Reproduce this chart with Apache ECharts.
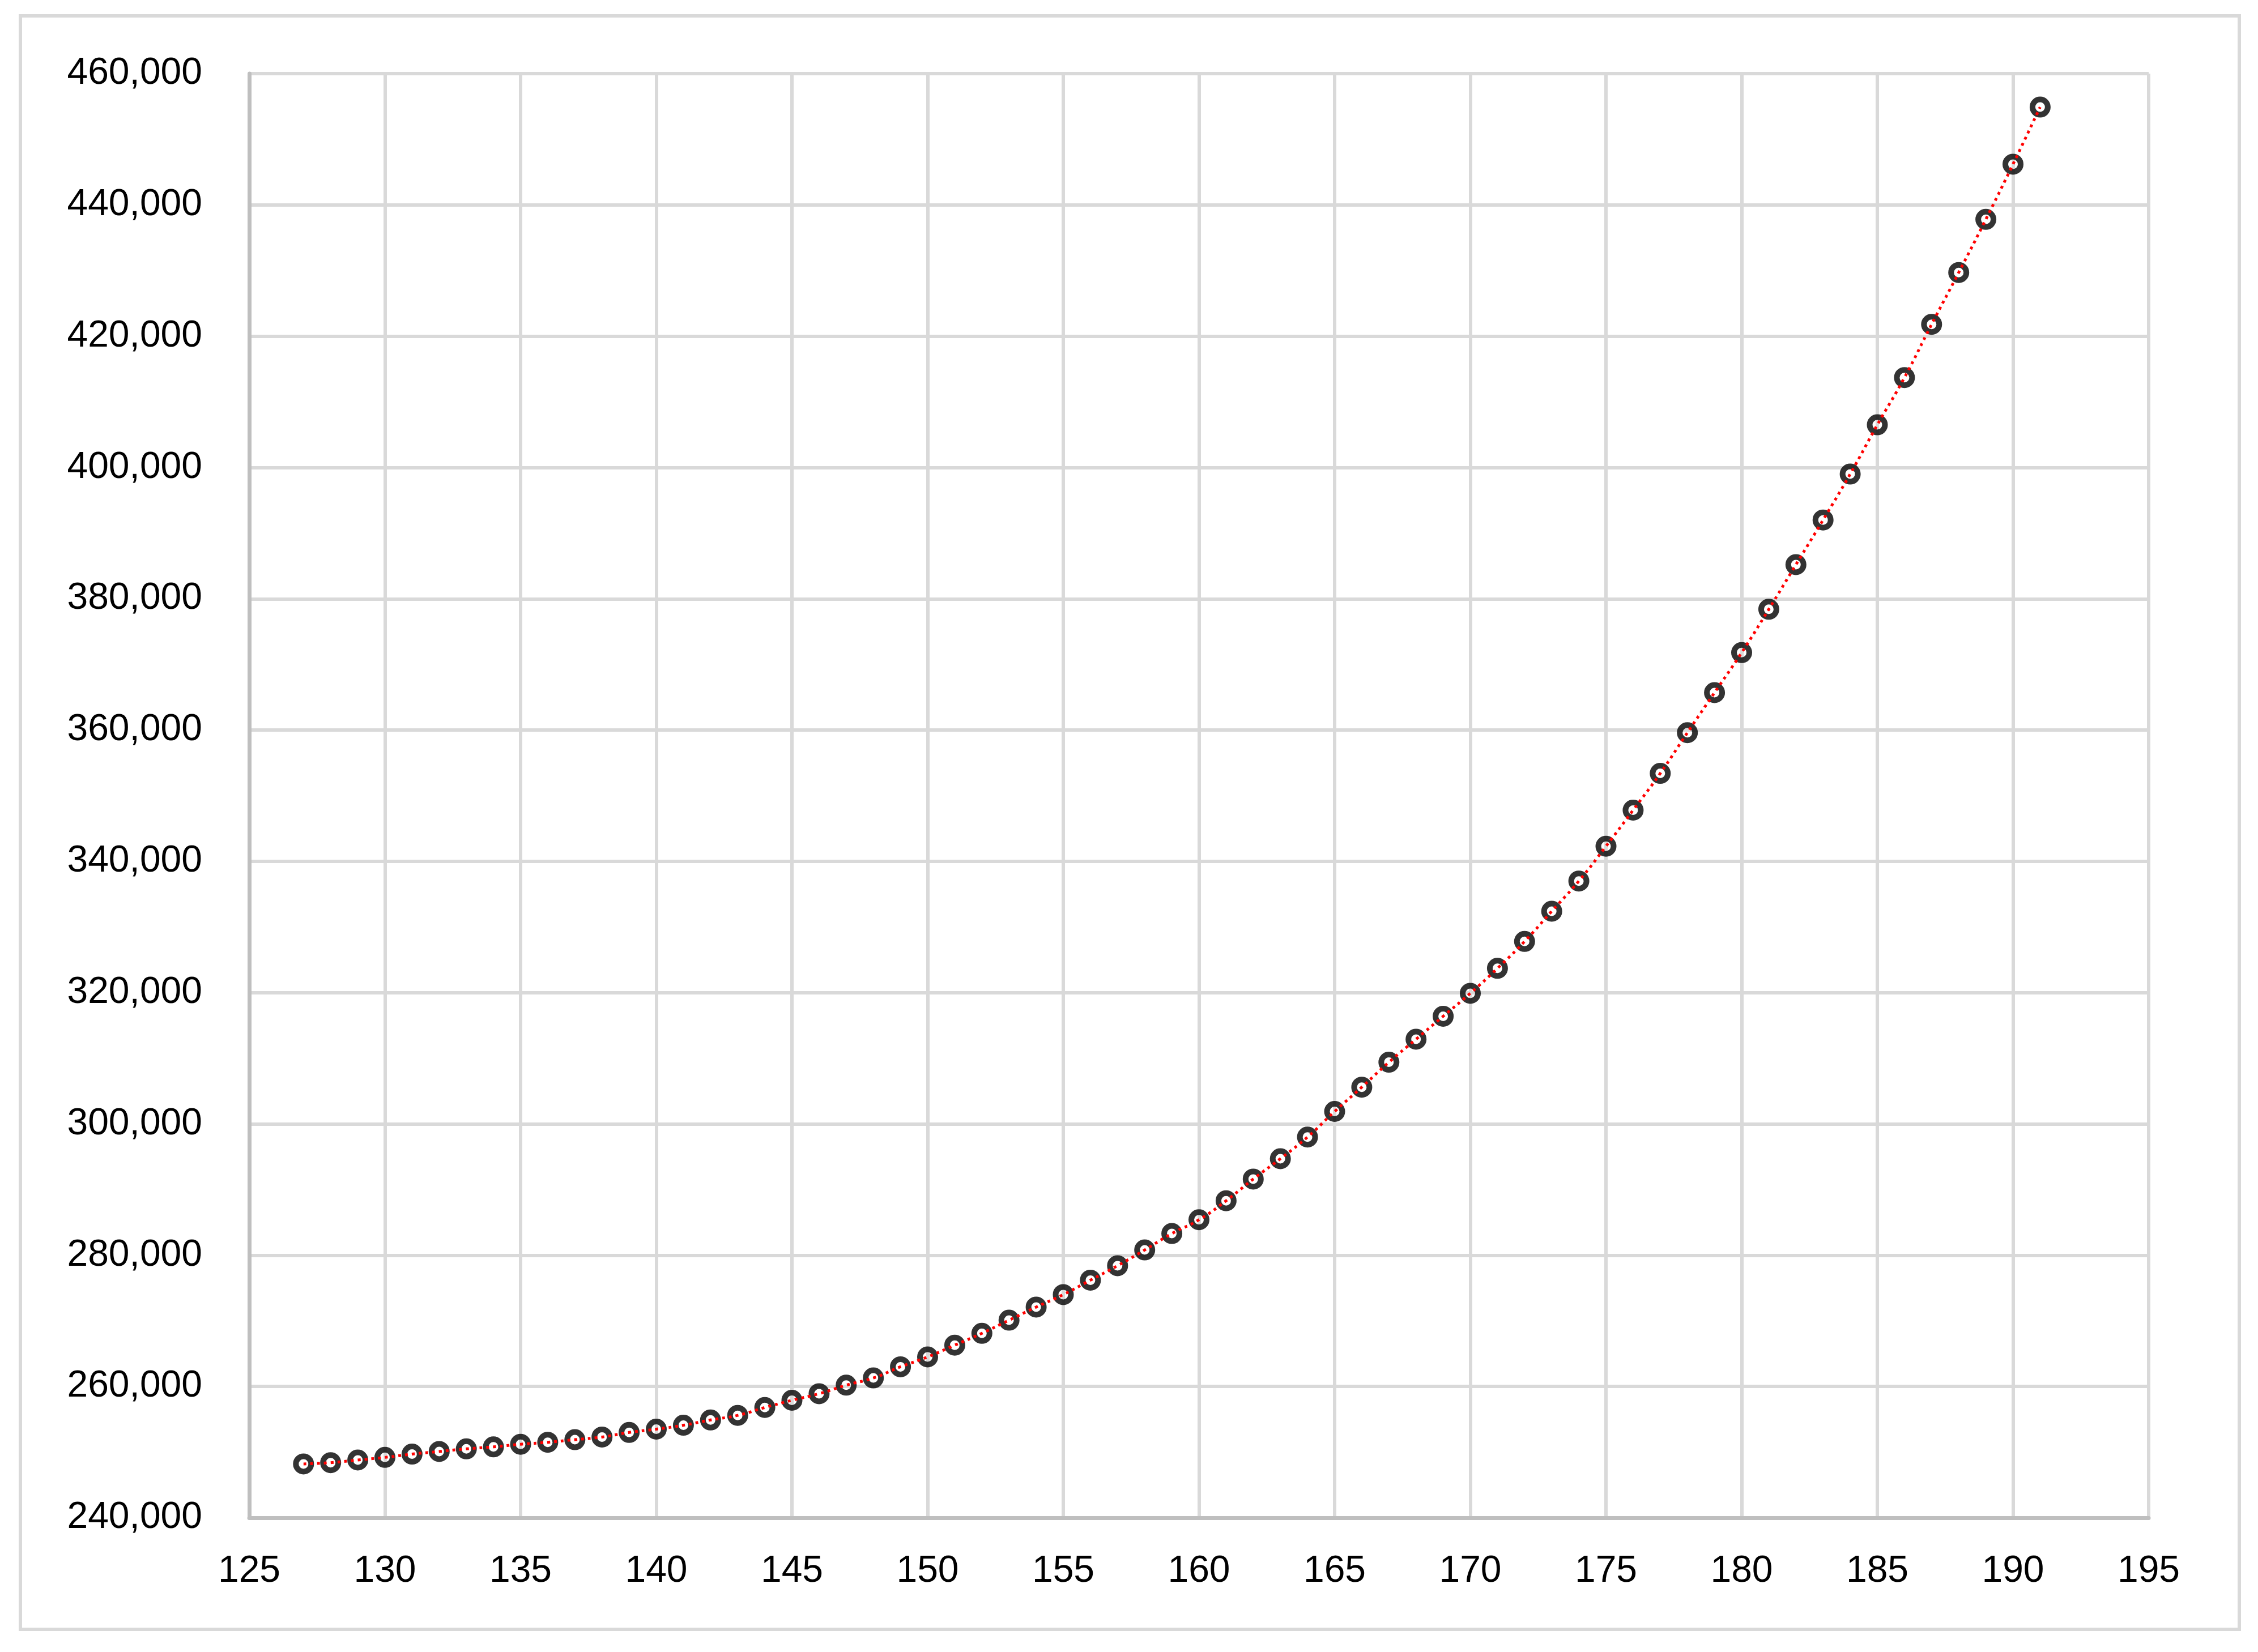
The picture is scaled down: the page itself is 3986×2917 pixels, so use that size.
<!DOCTYPE html>
<html lang="en">
<head>
    <meta charset="utf-8">
    <title>Scatter with trendline</title>
    <style>
        html, body { margin: 0; padding: 0; background: #fff; }
    </style>
</head>
<body>
    <div id="main" style="width:3986px;height:2917px;"></div>
    <script src="https://cdn.jsdelivr.net/npm/echarts@6/dist/echarts.min.js"></script>
    <script type="text/javascript">
        // x values (127 .. 191)
        var xValues = [
            127, 128, 129, 130, 131, 132, 133, 134, 135, 136,
            137, 138, 139, 140, 141, 142, 143, 144, 145, 146,
            147, 148, 149, 150, 151, 152, 153, 154, 155, 156,
            157, 158, 159, 160, 161, 162, 163, 164, 165, 166,
            167, 168, 169, 170, 171, 172, 173, 174, 175, 176,
            177, 178, 179, 180, 181, 182, 183, 184, 185, 186,
            187, 188, 189, 190, 191
        ];
        // y values
        var yValues = [
            248200, 248400, 248800, 249200, 249700, 250100, 250500, 250800, 251200, 251500,
            251900, 252300, 253000, 253500, 254100, 254900, 255600, 256800, 257900, 258900,
            260200, 261300, 263000, 264500, 266300, 268100, 270100, 272100, 274000, 276200,
            278400, 280800, 283300, 285400, 288300, 291600, 294700, 298000, 301900, 305600,
            309400, 312900, 316400, 319900, 323700, 327800, 332400, 337000, 342300, 347800,
            353400, 359600, 365700, 371800, 378400, 385200, 392000, 399000, 406500, 413700,
            421800, 429700, 437800, 446200, 454900
        ];
        var xTicks = [125, 195, 5];      // min, max, step
        var yTicks = [240000, 460000, 20000];

        var points = xValues.map(function (x, i) { return [x, yValues[i]]; });

        var myChart = echarts.init(document.getElementById('main'));

        var gridLine = { show: true, lineStyle: { color: '#d9d9d9', width: 6, type: 'solid' } };
        var labelFont = { color: '#000', fontFamily: 'Liberation Sans', fontSize: 66 };

        var option = {
            backgroundColor: '#fff',
            animation: false,
            graphic: [{
                type: 'rect',
                shape: { x: 36, y: 28, width: 3917, height: 2849 },
                style: { fill: 'none', stroke: '#d9d9d9', lineWidth: 6 },
                silent: true
            }],
            grid: {
                left: 440,
                right: 193,
                top: 130,
                bottom: 237,
                containLabel: false
            },
            xAxis: {
                type: 'value',
                min: xTicks[0],
                max: xTicks[1],
                interval: xTicks[2],
                axisLine: { show: true, lineStyle: { color: '#bfbfbf', width: 7 } },
                axisTick: { show: false },
                splitLine: gridLine,
                axisLabel: Object.assign({ margin: 62 }, labelFont)
            },
            yAxis: {
                type: 'value',
                min: yTicks[0],
                max: yTicks[1],
                interval: yTicks[2],
                axisLine: { show: true, lineStyle: { color: '#bfbfbf', width: 7 } },
                axisTick: { show: false },
                splitLine: gridLine,
                axisLabel: Object.assign({
                    margin: 83,
                    formatter: function (v) { return v.toLocaleString('en-US'); }
                }, labelFont)
            },
            series: [
                {
                    // data markers
                    type: 'scatter',
                    data: points,
                    symbol: 'circle',
                    symbolSize: 27,
                    itemStyle: { color: 'transparent', borderColor: '#000', borderWidth: 10 },
                    z: 2
                },
                {
                    // dotted red trendline drawn on top
                    type: 'line',
                    data: points,
                    smooth: true,
                    showSymbol: false,
                    lineStyle: { color: '#ff0000', width: 5, type: [5, 7] },
                    z: 3
                }
            ]
        };
        myChart.setOption(option);
    </script>
</body>
</html>
